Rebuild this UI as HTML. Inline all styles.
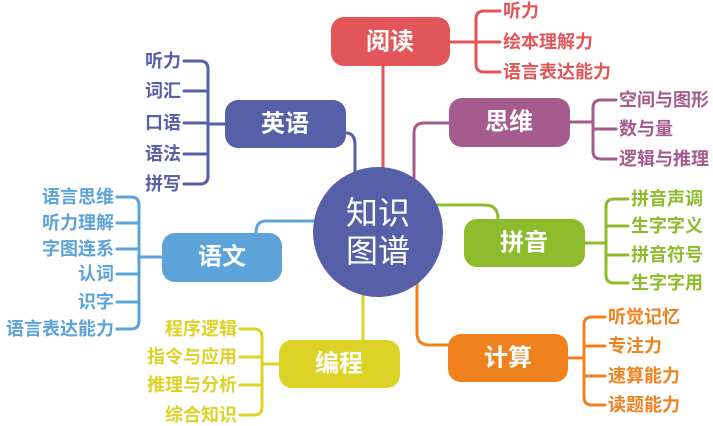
<!DOCTYPE html>
<html><head><meta charset="utf-8"><style>
html,body{margin:0;padding:0;background:#fff;}
svg{display:block;}
text{font-family:"Liberation Sans","Noto Sans CJK SC",sans-serif;font-weight:bold;dominant-baseline:central;}
.n{fill:#fff;font-size:24px;text-anchor:middle;}
.l{font-size:18px;}
path{fill:none;stroke-width:3;stroke-linecap:round;}
</style></head><body>
<svg width="713" height="426" viewBox="0 0 713 426" xmlns="http://www.w3.org/2000/svg">
<path d="M383,66 V170" stroke="#E2565A"/>
<path d="M346,133 Q355,133 355,145 V172" stroke="#5560A8"/>
<path d="M449,123 H424 Q414,123 414,133 V178" stroke="#A65B8E"/>
<path d="M437,205 H485 Q498,205 498,219" stroke="#8CBB2B"/>
<path d="M316,221 H266 Q256,221 256,233" stroke="#5CA3DA"/>
<path d="M363,294 V345" stroke="#DDD226"/>
<path d="M417,284 V333 Q417,345 430,345 H450" stroke="#F0821E"/>

<g stroke="#E2565A"><path d="M500,11 H484 Q476,11 476,19 V64 Q476,72 484,72 H500"/><path d="M450,42 H500"/></g>
<g stroke="#A65B8E"><path d="M616,100 H601 Q593,100 593,108 V151 Q593,159 601,159 H616"/><path d="M570,122 H593"/><path d="M593,129 H616"/></g>
<g stroke="#8CBB2B"><path d="M628,199 H614 Q606,199 606,207 V275 Q606,283 614,283 H628"/><path d="M585,243 H606"/><path d="M606,226 H628"/><path d="M606,255 H628"/></g>
<g stroke="#F0821E"><path d="M605,317 H592 Q584,317 584,325 V397 Q584,405 592,405 H605"/><path d="M568,358 H584"/><path d="M584,346 H605"/><path d="M584,376 H605"/></g>
<g stroke="#5560A8"><path d="M184,61 H200 Q208,61 208,69 V176 Q208,184 200,184 H184"/><path d="M225,124 H208"/><path d="M184,91 H208"/><path d="M184,123 H208"/><path d="M184,154 H208"/></g>
<g stroke="#5CA3DA"><path d="M117,197 H131 Q139,197 139,205 V321 Q139,329 131,329 H117"/><path d="M162,257 H139"/><path d="M117,223 H139"/><path d="M117,249 H139"/><path d="M117,274 H139"/><path d="M117,302 H139"/></g>
<g stroke="#DDD226"><path d="M240,329 H254 Q262,329 262,337 V407 Q262,415 254,415 H240"/><path d="M279,364 H262"/><path d="M240,357 H262"/><path d="M240,385 H262"/></g>

<circle cx="378" cy="232" r="65" fill="#5560A8"/>
<text x="378" y="213" class="n" style="font-size:32px;font-weight:normal">知识</text>
<text x="378" y="251" class="n" style="font-size:32px;font-weight:normal">图谱</text>

<rect x="331" y="17" width="119" height="49" rx="13" fill="#E2565A"/><text x="390" y="42" class="n">阅读</text>
<rect x="225" y="100" width="121" height="48" rx="13" fill="#5560A8"/><text x="285" y="124" class="n">英语</text>
<rect x="449" y="98" width="121" height="49" rx="13" fill="#A65B8E"/><text x="509" y="122" class="n">思维</text>
<rect x="162" y="233" width="120" height="49" rx="13" fill="#5CA3DA"/><text x="222" y="257" class="n">语文</text>
<rect x="464" y="219" width="121" height="48" rx="13" fill="#8CBB2B"/><text x="524" y="243" class="n">拼音</text>
<rect x="279" y="340" width="121" height="48" rx="13" fill="#DDD226"/><text x="339" y="364" class="n">编程</text>
<rect x="448" y="334" width="120" height="48" rx="13" fill="#F0821E"/><text x="508" y="358" class="n">计算</text>

<g fill="#E2565A"><text class="l" x="503" y="11">听力</text><text class="l" x="503" y="42">绘本理解力</text><text class="l" x="503" y="72">语言表达能力</text></g>
<g fill="#A65B8E"><text class="l" x="619" y="100">空间与图形</text><text class="l" x="619" y="129">数与量</text><text class="l" x="619" y="159">逻辑与推理</text></g>
<g fill="#8CBB2B"><text class="l" x="631" y="199">拼音声调</text><text class="l" x="631" y="226">生字字义</text><text class="l" x="631" y="255">拼音符号</text><text class="l" x="631" y="283">生字字用</text></g>
<g fill="#F0821E"><text class="l" x="608" y="317">听觉记忆</text><text class="l" x="608" y="346">专注力</text><text class="l" x="608" y="376">速算能力</text><text class="l" x="608" y="405">读题能力</text></g>
<g fill="#5560A8" text-anchor="end"><text class="l" x="181" y="61">听力</text><text class="l" x="181" y="91">词汇</text><text class="l" x="181" y="123">口语</text><text class="l" x="181" y="154">语法</text><text class="l" x="181" y="184">拼写</text></g>
<g fill="#5CA3DA" text-anchor="end"><text class="l" x="114" y="197">语言思维</text><text class="l" x="114" y="223">听力理解</text><text class="l" x="114" y="249">字图连系</text><text class="l" x="114" y="274">认词</text><text class="l" x="114" y="302">识字</text><text class="l" x="114" y="329">语言表达能力</text></g>
<g fill="#DDD226" text-anchor="end"><text class="l" x="237" y="329">程序逻辑</text><text class="l" x="237" y="357">指令与应用</text><text class="l" x="237" y="385">推理与分析</text><text class="l" x="237" y="415">综合知识</text></g>
</svg>
</body></html>
